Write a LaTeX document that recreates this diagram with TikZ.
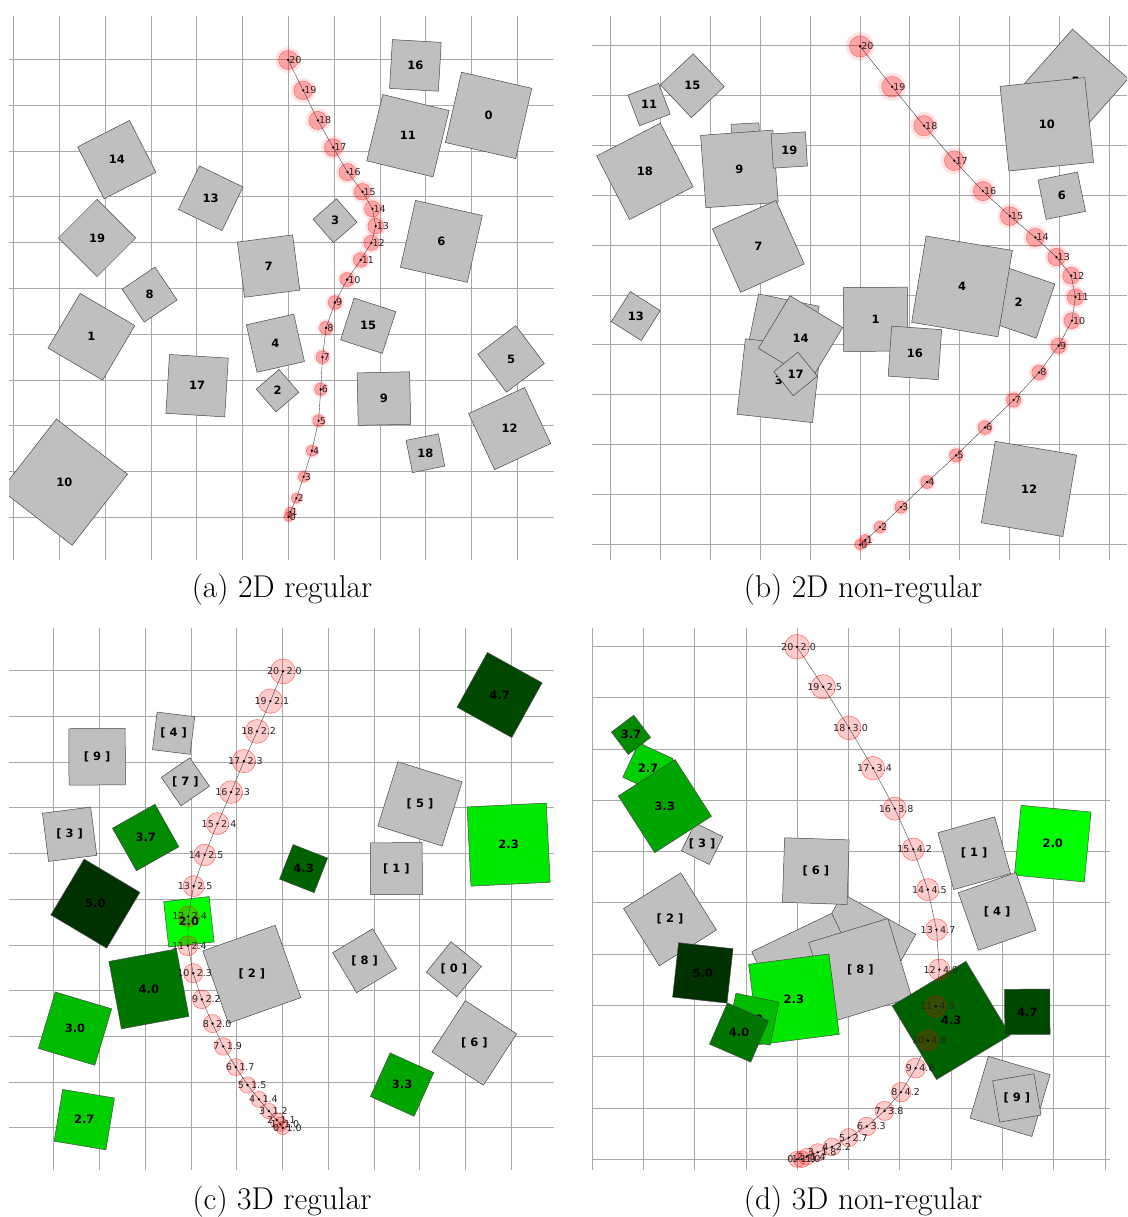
\documentclass[tikz,border=0pt]{standalone}
\usepackage{fontspec}
\setsansfont{DejaVu Sans}
\usepackage{tikz}

\definecolor{boxgray}{RGB}{191,191,191}
\definecolor{boxedge}{RGB}{70,70,70}
\definecolor{gridgray}{RGB}{168,168,168}
\definecolor{g20}{RGB}{0,255,0}
\definecolor{g23}{RGB}{0,232,0}
\definecolor{g27}{RGB}{0,207,0}
\definecolor{g30}{RGB}{0,187,0}
\definecolor{g33}{RGB}{0,165,0}
\definecolor{g37}{RGB}{0,139,0}
\definecolor{g40}{RGB}{0,118,0}
\definecolor{g43}{RGB}{0,97,0}
\definecolor{g47}{RGB}{0,71,0}
\definecolor{g50}{RGB}{0,50,0}

\tikzset{
  gridline/.style={gridgray, line width=0.85pt},
  box/.style={draw=boxedge, line width=0.5pt, inner sep=0pt, outer sep=0pt},
  boxlab/.style={font=\fontsize{11.5}{11.5}\selectfont\sffamily\bfseries, inner sep=0pt},
  halo/.style={circle, inner sep=0pt, fill=red, fill opacity=0.1},
  particle/.style={circle, inner sep=0pt, fill=red, fill opacity=0.28, draw=red, draw opacity=0.5, line width=0.4pt},
  cloud/.style={circle, inner sep=0pt, fill=red, fill opacity=0.2, draw=red, draw opacity=0.6, line width=0.45pt},
  trackline/.style={black!75, line width=0.4pt},
  tlab/.style={font=\fontsize{9.5}{9.5}\selectfont\sffamily, text=black!85, inner sep=0.5pt},
  caption/.style={font=\fontsize{31.5}{36}\selectfont}
}

\begin{document}
\begin{tikzpicture}[x=1pt, y=-1pt]
  \fill[white] (0,0) rectangle (1127,1217);
  \useasboundingbox (0,0) rectangle (1127,1217);

  % (a) 2D regular
  \begin{scope}
    \clip (9,16) rectangle (553.5,560);
    \foreach \k in {0,...,11} \draw[gridline] ({13.6+45.8*\k},16) -- ({13.6+45.8*\k},560);
    \foreach \k in {0,...,10} \draw[gridline] (9,{59.4+45.8*\k}) -- (553.5,{59.4+45.8*\k});
    \foreach \n/\x/\y/\s/\a in {16/415.4/65.4/48.9/-3.3, 0/488.6/115.4/72.1/-12.9,
        11/407.9/135.7/68.2/-13.6, 14/116.8/159.6/58.2/27, 13/210.7/198.2/48.4/-25.8,
        19/97.1/237.9/54.6/45, 3/335/220.7/31.1/41, 6/441.4/241.4/68.5/-12.7,
        7/268.6/266.1/55.7/7.4, 8/149.6/294.6/39.6/34, 1/91.4/336.8/63.4/-30.5,
        15/368.2/325.7/43.9/-18, 4/275.4/343.2/48.6/12.7, 5/511.1/358.9/47.5/37,
        17/197.1/385.7/58.9/-3.5, 2/277.5/390.7/30.1/40.7, 9/383.9/398.6/52.5/1.2,
        12/509.6/428.6/61.8/25, 18/425.4/453.2/32.9/11.3, 10/64.3/482.1/90/-37.9} {
      \node[box, fill=boxgray, minimum size=\s, rotate=\a] (a\n) at (\x,\y) {};
      \node[boxlab] (la\n) at (a\n.center) {\n};
    }
    \foreach \i/\x/\y in {0/288.6/516.8, 1/290.4/511.8, 2/296.4/498.2, 3/303.6/476.8,
        4/311.8/450.7, 5/318.6/420.7, 6/320.7/389.3, 7/322.5/357.1, 8/326.1/327.9,
        9/335/302.5, 10/347.1/279.6, 11/360.7/260, 12/371.4/242.9, 13/375.7/226.1,
        14/372.5/208.9, 15/362.5/191.8, 16/347.5/172.1, 17/333.2/147.5,
        18/317.9/120.4, 19/303.2/90.4, 20/288.2/60} {
      \pgfmathsetmacro{\r}{4.6+0.25*\i}
      \node[halo, minimum size=2.7*\r] (ha\i) at (\x,\y) {};
      \node[particle, minimum size=2*\r] (pa\i) at (\x,\y) {};
    }
    \draw[trackline] (pa0.center) \foreach \i in {1,...,20} {-- (pa\i.center)};
    \foreach \i in {0,...,20} {
      \fill (pa\i.center) circle (1.3);
      \node[tlab, anchor=west] (ta\i) at ([xshift=0.5]pa\i.center) {\i};
    }
  \end{scope}

  % (b) 2D non-regular
  \begin{scope}
    \clip (592,16) rectangle (1127,560);
    \foreach \k in {0,...,10} \draw[gridline] ({610.7+49.85*\k},16) -- ({610.7+49.85*\k},560);
    \foreach \k in {0,...,10} \draw[gridline] (592,{45.7+49.85*\k}) -- (1127,{45.7+49.85*\k});
    \foreach \n/\x/\y/\s/\a in {8/745.7/137.5/27.9/3, 9/739.4/168.9/72.5/4.2,
        19/789.3/150/34.2/3.5, 11/649.1/104.6/32.8/20.8, 15/692.3/85.7/45.2/43.4,
        18/644.9/171.4/71.5/27.3, 7/758.3/246.4/69.5/24, 5/1075.7/81.8/74.5/48.5,
        10/1046.8/124.3/85.1/5.9, 6/1061.8/195.7/40.2/11.6, 13/635.8/316.1/35.5/-32.4,
        2/1018.5/301.8/57.2/-19, 4/962/286.4/87.5/-9.5, 1/875.5/319.3/63.9/0.3,
        16/914.9/352.9/50.1/-4, 0/782.7/330.4/61.8/-11.5, 3/778.9/380.7/75.9/-6.3,
        14/800.5/337.9/61.4/-31.1, 17/795.6/373.9/30.9/39, 12/1029/488.9/82.6/-9.6} {
      \node[box, fill=boxgray, minimum size=\s, rotate=\a] (b\n) at (\x,\y) {};
      \node[boxlab] (lb\n) at (b\n.center) {\n};
    }
    \foreach \i/\x/\y in {0/860.1/544.6, 1/865.4/540, 2/880/527.1, 3/901/507.1,
        4/927.1/482.1, 5/956.1/455.4, 6/985/427.5, 7/1013.6/400, 8/1039.1/372.5,
        9/1058.6/345.7, 10/1071.9/320.7, 11/1075.4/297.1, 12/1071.2/275.7,
        13/1056.5/257.1, 14/1035.3/237.5, 15/1009.8/216.1, 16/982.9/191.1,
        17/954.3/160.7, 18/924/125.7, 19/892.2/86.8, 20/860.1/46.4} {
      \pgfmathsetmacro{\r}{5.3+0.27*\i}
      \node[halo, minimum size=2.7*\r] (hb\i) at (\x,\y) {};
      \node[particle, minimum size=2*\r] (pb\i) at (\x,\y) {};
    }
    \draw[trackline] (pb0.center) \foreach \i in {1,...,20} {-- (pb\i.center)};
    \foreach \i in {0,...,20} {
      \fill (pb\i.center) circle (1.3);
      \node[tlab, anchor=west] (tb\i) at ([xshift=0.5]pb\i.center) {\i};
    }
  \end{scope}

  % (c) 3D regular
  \begin{scope}
    \clip (9,628) rectangle (553.5,1170);
    \foreach \k in {0,...,10} \draw[gridline] ({53.9+45.75*\k},628) -- ({53.9+45.75*\k},1170);
    \foreach \k in {0,...,10} \draw[gridline] (9,{670.7+45.72*\k}) -- (553.5,{670.7+45.72*\k});
    \foreach \n/\x/\y/\s/\a/\col/\lab in {q9/97.1/756.8/56.4/0.3/boxgray/[ 9 ],
        q4/173.6/733.2/37.9/-7/boxgray/[ 4 ], q7/185.4/781.8/34.6/34.5/boxgray/[ 7 ],
        q3/69.6/834.3/48.6/7.2/boxgray/[ 3 ], v37/145.7/837.5/48.8/29.4/g37/3.7,
        v50/95.4/903.6/64.9/-30.8/g50/5.0, v20/188.9/921.8/45.7/6.3/g20/2.0,
        v43/303.6/868.6/37.1/-21.4/g43/4.3, q1/396.4/868.6/51.8/0.5/boxgray/[ 1 ],
        q5/420/803.9/67.3/-17.3/boxgray/[ 5 ], v23/508.6/844.6/79.3/2.8/g23/2.3,
        v47/499.6/695/62.5/-29/g47/4.7, q2/251.8/974.3/76.8/19.5/boxgray/[ 2 ],
        v40/148.9/988.9/68.6/10.5/g40/4.0, v30/75/1028.6/58.9/-16.6/g30/3.0,
        v27/84.3/1119.6/52.5/-9.4/g27/2.7, q8/364.6/960.7/46.6/30.9/boxgray/[ 8 ],
        q0/453.9/969.3/39.1/-39/boxgray/[ 0 ], q6/474.3/1042.9/61.2/-32.9/boxgray/[ 6 ],
        v33/402.1/1084.6/47.9/-24.3/g33/3.3} {
      \node[box, fill=\col, minimum size=\s, rotate=\a] (c\n) at (\x,\y) {};
      \node[boxlab] (lc\n) at (c\n.center) {\lab};
    }
    \foreach \i/\x/\y in {0/282.9/1127.9, 1/280.4/1124.3, 2/276.8/1120,
        3/268.9/1111.1, 4/258.9/1099.3, 5/247.5/1085, 6/235.7/1067.1,
        7/223.2/1046.4, 8/212.5/1023.6, 9/201.8/999.3, 10/193.2/973.2,
        11/187.9/945.7, 12/188.2/916.4, 13/193.6/886.1, 14/204.6/855,
        15/217.5/823.6, 16/231.1/792.1, 17/243.9/761.1, 18/257.1/731.4,
        19/270.4/701.1, 20/282.9/671.4} {
      \pgfmathsetmacro{\r}{6.8+0.285*\i}
      \node[cloud, minimum size=2*\r] (pc\i) at (\x,\y) {};
    }
    \draw[trackline] (pc0.center) \foreach \i in {1,...,20} {-- (pc\i.center)};
    \foreach \i/\v in {0/1.0, 1/1.0, 2/1.1, 3/1.2, 4/1.4, 5/1.5, 6/1.7, 7/1.9,
        8/2.0, 9/2.2, 10/2.3, 11/2.4, 12/2.4, 13/2.5, 14/2.5, 15/2.4, 16/2.3,
        17/2.3, 18/2.2, 19/2.1, 20/2.0} {
      \fill (pc\i.center) circle (1.3);
      \node[tlab, anchor=east] (tc\i) at ([xshift=-3]pc\i.center) {\i};
      \node[tlab, anchor=west] (vc\i) at ([xshift=3]pc\i.center) {\v};
    }
  \end{scope}

  % (d) 3D non-regular
  \begin{scope}
    \clip (592,628) rectangle (1127,1170);
    \foreach \k in {0,...,10} \draw[gridline] ({592.2+51.28*\k},628) -- ({592.2+51.28*\k},1170);
    \foreach \k in {0,...,10} \draw[gridline] (592,{646.4+51.29*\k}) -- (1110,{646.4+51.29*\k});
    \foreach \n/\x/\y/\s/\a/\col/\lab in {v27/648/768/38/-24.8/g27/2.7,
        v37/631/734.8/28/37/g37/3.7, q3/702.2/843.7/31/-26.4/boxgray/[ 3 ],
        v33/664.9/806.1/67.4/32.7/g33/3.3, q2/670/919.3/67.4/32/boxgray/[ 2 ],
        v50/702.8/972.9/54.7/-6.3/g50/5.0, q5/858.9/950.6/83.6/-29/boxgray/[ 5 ],
        q6/815.8/871.1/64.6/-1.9/boxgray/[ 6 ], q0/810.9/972.5/88.7/25.6/boxgray/[ 0 ],
        q8/860.3/970/82.6/16.9/boxgray/[ 8 ], v23/793.9/999.3/81/7.3/g23/2.3,
        v30/753/1019.2/44/-11.7/g30/3.0, v40/739.1/1032.5/45/-23.5/g40/4.0,
        q1/974.2/853.2/59/15.6/boxgray/[ 1 ], v20/1052.7/843.6/70.2/-5.5/g20/2.0,
        q4/997.2/911.4/61/19.3/boxgray/[ 4 ], v43/951.2/1020.4/86.1/31/g43/4.3,
        v47/1027.3/1011.8/45.2/0.3/g47/4.7, q7/1010.1/1096.4/64.5/-16.5/boxgray/[ 7 ],
        q9/1016.8/1097.9/41.9/9.7/boxgray/[ 9 ]} {
      \node[box, fill=\col, minimum size=\s, rotate=\a] (d\n) at (\x,\y) {};
      \node[boxlab] (ld\n) at (d\n.center) {\lab};
    }
    \foreach \i/\x/\y in {0/797/1159.3, 1/801.7/1159.3, 2/806.7/1156.7,
        3/817.7/1152.3, 4/832.1/1146.8, 5/848.8/1137.6, 6/866.8/1126.4,
        7/884.5/1110.9, 8/901/1092.1, 9/915.6/1068.2, 10/927.8/1040.4,
        11/935.8/1006.4, 12/939.3/969.6, 13/936.5/929.6, 14/927.8/889.6,
        15/913.2/849.3, 16/894.7/808.6, 17/873/768.2, 18/849/727.9,
        19/823.2/686.8, 20/797/646.8} {
      \pgfmathsetmacro{\r}{8+0.22*\i}
      \node[cloud, minimum size=2*\r] (pd\i) at (\x,\y) {};
    }
    \draw[trackline] (pd0.center) \foreach \i in {1,...,20} {-- (pd\i.center)};
    \foreach \i/\v in {0/1.0, 1/1.0, 2/1.4, 3/1.8, 4/2.2, 5/2.7, 6/3.3, 7/3.8,
        8/4.2, 9/4.6, 10/4.8, 11/4.9, 12/4.9, 13/4.7, 14/4.5, 15/4.2, 16/3.8,
        17/3.4, 18/3.0, 19/2.5, 20/2.0} {
      \fill (pd\i.center) circle (1.3);
      \node[tlab, anchor=east] (td\i) at ([xshift=-3]pd\i.center) {\i};
      \node[tlab, anchor=west] (vd\i) at ([xshift=3]pd\i.center) {\v};
    }
  \end{scope}

  % captions
  \node[caption] (capa) at (282,590) {(a) 2D regular};
  \node[caption] (capb) at (863,590) {(b) 2D non-regular};
  \node[caption] (capc) at (282,1202) {(c) 3D regular};
  \node[caption] (capd) at (863,1202) {(d) 3D non-regular};
\end{tikzpicture}
\end{document}
